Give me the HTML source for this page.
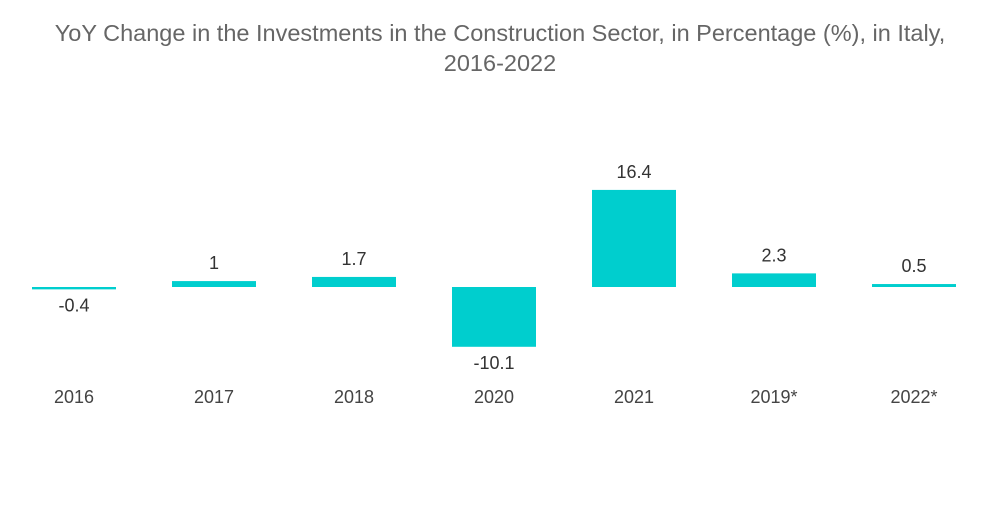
<!DOCTYPE html>
<html><head><meta charset="utf-8"><style>
body{margin:0;background:#fff;width:1000px;height:504px;overflow:hidden;font-family:"Liberation Sans",sans-serif}
svg text{font-family:"Liberation Sans",sans-serif}
</style></head><body>
<svg id="chart" width="1000" height="504">
<text x="500" y="41" text-anchor="middle" font-size="23.5" fill="#666">YoY Change in the Investments in the Construction Sector, in Percentage (%), in Italy,</text>
<text x="500" y="71" text-anchor="middle" font-size="23.5" fill="#666">2016-2022</text>
<g id="bars"></g>
</svg>
<script>
const categories=["2016","2017","2018","2020","2021","2019*","2022*"];
const values=[-0.4,1,1.7,-10.1,16.4,2.3,0.5];
const valueLabels=["-0.4","1","1.7","-10.1","16.4","2.3","0.5"];
const zeroY=287, pxPerUnit=5.92, x0=74, step=140, bw=84;
function yScale(v){return zeroY-v*pxPerUnit;}
function xScale(i){return x0+i*step;}
const g=document.getElementById('bars');
const NS="http://www.w3.org/2000/svg";
categories.forEach((c,i)=>{
  const v=values[i];
  const r=document.createElementNS(NS,'rect');
  const y1=Math.min(yScale(v),zeroY), y2=Math.max(yScale(v),zeroY);
  r.setAttribute('x',xScale(i)-bw/2);
  r.setAttribute('y',y1);
  r.setAttribute('width',bw);
  r.setAttribute('height',Math.max(y2-y1,1.5));
  r.setAttribute('fill','#00cece');
  
  
  g.appendChild(r);
  const t=document.createElementNS(NS,'text');
  t.setAttribute('x',xScale(i));
  t.setAttribute('y',v>=0?y1-12:y2+22);
  t.setAttribute('text-anchor','middle');
  t.setAttribute('font-size','18');
  t.setAttribute('fill','#333');
  t.textContent=valueLabels[i];
  
  
  g.appendChild(t);
  const l=document.createElementNS(NS,'text');
  l.setAttribute('x',xScale(i));
  l.setAttribute('y',403);
  l.setAttribute('text-anchor','middle');
  l.setAttribute('font-size','18');
  l.setAttribute('fill','#444');
  l.textContent=c;
  
  
  g.appendChild(l);
});
</script>
</body></html>
